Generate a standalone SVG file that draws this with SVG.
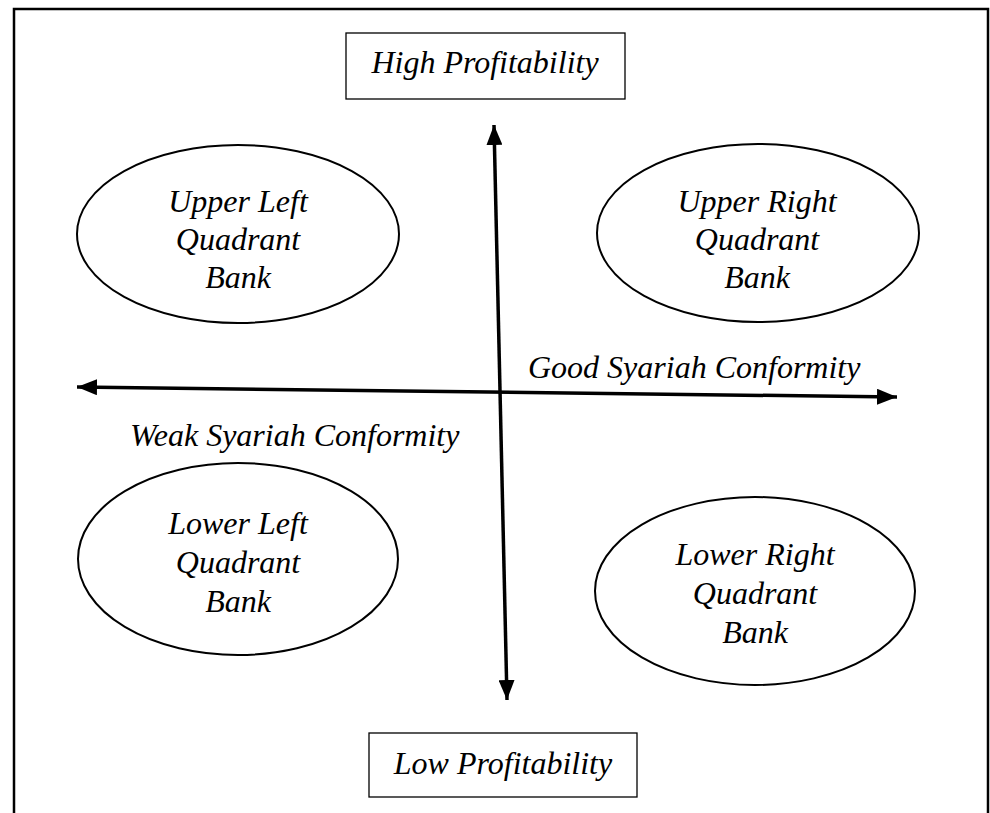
<svg xmlns="http://www.w3.org/2000/svg" width="990" height="813" viewBox="0 0 990 813">
  <style>
    .frame { fill: none; stroke: #000; stroke-width: 2.5; }
    .box { fill: #fff; stroke: #000; stroke-width: 1.3; }
    .oval { fill: #fff; stroke: #000; stroke-width: 2; }
    .axis { fill: none; stroke: #000; stroke-width: 3.5; }
    .lbl { font-family: "Liberation Serif", "Times New Roman", serif; font-style: italic; font-size: 32px; fill: #000; text-anchor: middle; }
    .free { font-family: "Liberation Serif", "Times New Roman", serif; font-style: italic; font-size: 32px; fill: #000; }
  </style>
  <defs>
    <!-- solid triangular head; tip sits exactly on the line end -->
    <marker id="head" markerUnits="userSpaceOnUse" markerWidth="20" markerHeight="16" refX="20" refY="8" orient="auto-start-reverse" viewBox="0 0 20 16">
      <path d="M0,0 L20,8 L0,16 Z" fill="#000"/>
    </marker>
  </defs>

  <rect width="990" height="813" fill="#fff"/>
  <!-- outer frame, open at the bottom edge of the page -->
  <path class="frame" d="M14,830 V9 H988 V830"/>

  <!-- axes -->
  <g id="connectors">
    <line class="axis" x1="507" y1="700" x2="494" y2="125" marker-start="url(#head)" marker-end="url(#head)"/>
    <line class="axis" x1="77" y1="387" x2="897" y2="397" marker-start="url(#head)" marker-end="url(#head)"/>
  </g>

  <g id="high">
    <rect class="box" x="346" y="33" width="279" height="66"/>
    <text class="lbl" x="485" y="73">High Profitability</text>
  </g>

  <g id="low">
    <rect class="box" x="369" y="733" width="268" height="64"/>
    <text class="lbl" x="503" y="774">Low Profitability</text>
  </g>

  <g id="upper-left">
    <ellipse class="oval" cx="238" cy="234" rx="161" ry="89"/>
    <text class="lbl" x="238" y="212">Upper Left</text>
    <text class="lbl" x="238" y="250">Quadrant</text>
    <text class="lbl" x="238" y="288">Bank</text>
  </g>

  <g id="upper-right">
    <ellipse class="oval" cx="758" cy="233" rx="161" ry="89"/>
    <text class="lbl" x="757" y="212">Upper Right</text>
    <text class="lbl" x="757" y="250">Quadrant</text>
    <text class="lbl" x="757" y="288">Bank</text>
  </g>

  <g id="lower-left">
    <ellipse class="oval" cx="238" cy="559" rx="160" ry="96"/>
    <text class="lbl" x="238" y="534">Lower Left</text>
    <text class="lbl" x="238" y="573">Quadrant</text>
    <text class="lbl" x="238" y="612">Bank</text>
  </g>

  <g id="lower-right">
    <ellipse class="oval" cx="755" cy="591" rx="160" ry="94"/>
    <text class="lbl" x="755" y="565">Lower Right</text>
    <text class="lbl" x="755" y="604">Quadrant</text>
    <text class="lbl" x="755" y="643">Bank</text>
  </g>

  <g id="axis-labels">
    <text class="free" x="528" y="378">Good Syariah Conformity</text>
    <text class="free" x="130" y="446">Weak Syariah Conformity</text>
  </g>
</svg>
